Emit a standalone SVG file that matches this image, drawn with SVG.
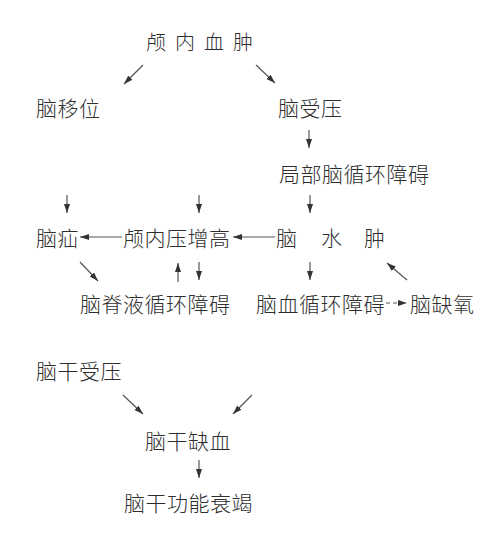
<svg xmlns="http://www.w3.org/2000/svg" width="503" height="537" viewBox="0 0 503 537">
<defs>
<marker id="ah" markerUnits="userSpaceOnUse" markerWidth="10" markerHeight="7" refX="9" refY="3" orient="auto">
<path d="M0,0 L9,3 L0,6 z" fill="#333"/>
</marker>
<style>
text{font-family:"Noto Sans CJK SC","Noto Sans CJK JP",sans-serif;font-size:21px;font-weight:300;fill:#2e2e2e;letter-spacing:0.5px}
.c line,.c path{stroke:#555;stroke-width:1.2;fill:none;marker-end:url(#ah)}
</style>
</defs>
<rect width="503" height="537" fill="#fff"/>
<g id="n1"><text x="146" y="50" style="font-size:20px;letter-spacing:9px">颅内血肿</text></g>
<g id="n2"><text x="36" y="116">脑移位</text></g>
<g id="n3"><text x="278" y="116">脑受压</text></g>
<g id="n4"><text x="279" y="182">局部脑循环障碍</text></g>
<g id="n5"><text x="36" y="246">脑疝</text></g>
<g id="n6"><text x="123" y="246">颅内压增高</text></g>
<g id="n7"><text x="276" y="246">脑</text><text x="321" y="246">水</text><text x="364" y="246">肿</text></g>
<g id="n8"><text x="80" y="312">脑脊液循环障碍</text></g>
<g id="n9"><text x="256" y="312">脑血循环障碍</text></g>
<g id="n10"><text x="410" y="312">脑缺氧</text></g>
<g id="n11"><text x="36" y="379">脑干受压</text></g>
<g id="n12"><text x="145" y="449">脑干缺血</text></g>
<g id="n13"><text x="124" y="511">脑干功能衰竭</text></g>
<g id="connectors" class="c">
<line x1="143" y1="65" x2="124" y2="84"/>
<line x1="256" y1="65" x2="275" y2="83"/>
<line x1="309" y1="130" x2="309" y2="148"/>
<line x1="67" y1="195" x2="67" y2="213"/>
<line x1="199" y1="195" x2="199" y2="213"/>
<line x1="310" y1="195" x2="310" y2="213"/>
<line x1="122" y1="237" x2="80" y2="237"/>
<line x1="275" y1="237" x2="233" y2="237"/>
<line x1="80" y1="262" x2="98" y2="281"/>
<line x1="178" y1="282" x2="178" y2="263"/>
<line x1="199" y1="262" x2="199" y2="280"/>
<line x1="310" y1="262" x2="310" y2="280"/>
<line x1="407" y1="280" x2="387" y2="263"/>
<line x1="386" y1="303" x2="407" y2="303" stroke-dasharray="4,3"/>
<line x1="123" y1="395" x2="143" y2="414"/>
<line x1="252" y1="395" x2="233" y2="414"/>
<line x1="199" y1="460" x2="199" y2="478"/>
</g>
</svg>
